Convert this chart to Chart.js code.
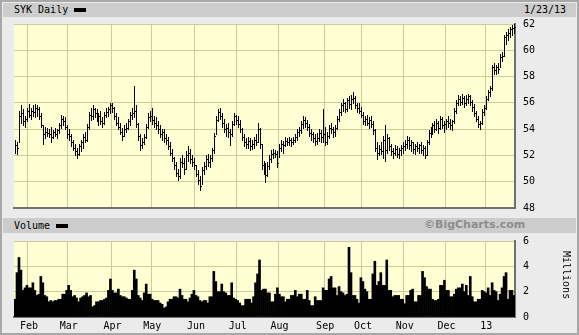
<!DOCTYPE html>
<html>
<head>
<meta charset="utf-8">
<script src="https://cdn.jsdelivr.net/npm/chart.js@4.4.1/dist/chart.umd.min.js"></script>
<style>
  body { margin: 0; background: #ebebeb; }
  #frame {
    position: relative; width: 579px; height: 335px; overflow: hidden;
    background: #ebebeb; box-shadow: inset 0 0 0 2px #a8a8a8;
    font-family: "DejaVu Sans Mono", monospace; font-size: 10px; color: #000;
  }
  .band { position: absolute; left: 3px; width: 573px; background: #cccccc; }
  .txt { position: absolute; white-space: nowrap; line-height: 12px; }
  .swatch { position: absolute; width: 12px; height: 4px; background: #000; }
  canvas { position: absolute; left: 0; }
</style>
</head>
<body>
<div id="frame">
  <canvas id="priceChart" width="579" height="212" style="top:10px"></canvas>
  <canvas id="volChart" width="579" height="108" style="top:227px"></canvas>

  <div class="band" style="top:3px;height:14px"></div>
  <div class="txt" style="left:14px;top:4px">SYK Daily</div>
  <div class="swatch" style="left:74px;top:8px"></div>
  <div class="txt" style="left:524px;top:4px">1/23/13</div>

  <div class="band" style="top:218px;height:15px"></div>
  <div class="txt" style="left:14px;top:220px">Volume</div>
  <div class="swatch" style="left:56px;top:224px"></div>
  <div class="txt" style="left:424px;top:219px;font-family:'DejaVu Sans',sans-serif;font-weight:bold;font-size:11px;color:#8c8c8c">©BigCharts.com</div>
  <div class="txt" style="left:542px;top:269px;width:48px;text-align:center;transform:rotate(90deg)">Millions</div>
</div>

<script>
// ---------------------------------------------------------------------------
// Data: SYK daily, 1/23/12 - 1/23/13 (252 sessions)
// ---------------------------------------------------------------------------
const monthNames = ["Feb", "Mar", "Apr", "May", "Jun", "Jul", "Aug", "Sep", "Oct", "Nov", "Dec", "13"];
const monthStarts = [7, 27, 49, 69, 91, 112, 133, 156, 175, 196, 217, 237];

const highs = [
  53.2,53.0,55.4,55.8,55.5,55.0,55.6,55.9,55.6,55.8, 55.9,55.8,55.7,55.2,54.3,54.2,54.1,54.0,54.2,53.9,
  54.1,54.0,54.5,55.1,55.0,54.9,54.3,54.0,53.6,53.2, 52.9,52.6,52.9,53.2,53.6,53.8,54.4,55.3,55.6,55.8,
  55.6,55.5,55.2,55.4,54.9,55.3,55.6,55.7,56.0,56.0, 55.7,55.2,54.9,54.5,54.1,54.3,54.5,54.8,55.3,55.6,
  57.3,55.8,54.5,53.6,53.3,53.6,54.4,55.2,55.4,55.6, 55.0,54.9,54.6,54.3,54.0,54.0,53.6,53.4,53.0,52.5,
  51.9,51.5,51.0,51.8,52.0,51.8,52.3,52.7,52.5,52.0, 51.8,51.3,50.9,50.4,51.1,51.5,52.0,52.1,52.0,52.6,
  53.7,55.0,55.5,55.6,55.2,54.8,54.4,54.5,54.0,54.6, 55.2,55.1,55.0,54.7,54.1,53.6,53.3,53.4,53.3,53.2,
  53.4,53.6,54.5,54.1,52.9,51.6,51.4,51.5,52.0,52.4, 52.5,52.4,52.3,52.9,53.2,53.1,53.4,53.3,53.4,53.3,
  53.4,53.6,54.0,54.2,54.6,55.0,54.9,54.7,54.4,54.0, 53.8,53.6,53.7,54.0,53.9,55.5,54.2,53.8,54.3,54.5,
  54.2,54.3,55.0,55.5,56.0,56.3,56.1,56.4,56.5,56.6, 56.8,56.5,56.0,56.0,55.7,55.3,55.0,55.1,54.9,55.0,
  54.6,54.0,53.0,52.8,53.0,53.5,54.3,53.6,53.4,52.9, 52.6,52.8,52.7,52.6,52.8,53.0,53.2,53.5,53.4,53.2,
  53.0,52.9,53.0,52.9,53.0,52.8,52.7,53.2,53.9,54.2, 54.5,54.6,54.8,54.6,55.0,54.9,54.6,54.8,55.0,54.8,
  54.7,55.6,56.2,56.6,56.5,56.7,56.5,56.6,56.7,56.6, 56.2,55.9,55.4,55.0,54.6,55.5,55.8,56.5,57.0,57.3,
  58.9,59.0,58.9,59.0,59.7,59.9,61.2,61.4,61.6,61.8, 61.9,62.0
];

const lows = [
  52.2,52.1,53.0,54.5,54.3,54.2,54.6,54.9,54.8,55.0, 54.9,55.0,54.8,54.2,52.9,53.3,53.5,53.4,53.0,53.3,
  53.5,53.3,53.7,54.1,54.3,54.0,53.3,53.2,52.7,52.4, 52.0,51.8,52.0,52.3,52.6,53.0,53.1,54.0,54.7,54.8,
  54.9,54.6,54.3,54.4,54.2,54.4,54.9,55.0,55.2,55.3, 54.8,54.3,54.0,53.6,53.2,53.5,53.8,54.0,54.3,54.8,
  54.9,54.2,53.2,52.4,52.6,52.9,53.3,54.1,54.6,54.4, 54.2,54.0,53.7,53.4,53.2,53.0,52.9,52.5,52.0,51.6,
  51.0,50.4,50.1,50.3,51.1,50.6,51.0,51.6,51.4,51.2, 51.0,50.4,49.8,49.4,49.8,50.6,51.0,51.2,51.1,51.6,
  52.2,53.6,54.6,54.8,54.2,53.8,53.5,53.4,52.8,53.5, 54.3,54.4,54.2,53.8,53.2,52.7,52.6,52.6,52.4,52.5,
  52.6,52.8,53.0,52.6,51.0,50.6,50.0,50.4,51.0,51.5, 51.8,51.9,51.1,51.9,52.3,52.2,52.7,52.8,52.8,52.7,
  52.9,53.0,53.2,53.5,53.7,54.1,54.2,53.9,53.5,53.2, 53.0,52.8,52.9,53.1,53.0,53.0,52.8,52.9,53.3,53.7,
  53.4,53.5,54.0,54.6,55.1,55.4,55.3,55.4,55.6,55.5, 56.0,55.6,55.3,55.2,54.9,54.4,54.3,54.3,54.1,54.2,
  53.6,52.3,51.7,52.0,52.1,51.8,51.6,52.2,52.4,52.0, 51.8,52.0,51.9,51.8,52.0,52.2,52.4,52.6,52.5,52.3,
  52.2,52.1,52.3,52.2,52.2,52.0,51.8,52.0,52.9,53.4, 53.6,53.8,53.9,53.7,54.0,54.1,53.8,54.0,54.2,54.0,
  53.9,54.5,55.2,55.8,55.8,55.9,55.7,55.8,56.0,55.8, 55.4,55.0,54.6,54.2,54.0,54.4,55.1,55.5,56.2,56.5,
  57.0,58.2,58.2,58.3,58.7,59.2,59.6,60.5,60.8,61.0, 61.2,61.3
];

const closes = [
  52.8,52.6,55.0,55.2,54.6,54.8,55.4,55.1,55.4,55.3, 55.6,55.5,55.0,54.3,53.6,53.8,53.7,53.6,53.4,53.8,
  53.6,53.9,54.3,54.8,54.6,54.2,53.6,53.5,53.0,52.6, 52.3,52.1,52.7,53.0,53.4,53.2,54.2,55.1,55.0,55.5,
  55.2,54.8,55.0,54.6,54.5,55.1,55.3,55.5,55.8,55.6, 55.0,54.5,54.2,53.8,53.5,54.0,54.1,54.6,55.1,55.2,
  55.4,54.4,53.5,52.8,53.0,53.4,54.2,54.9,55.0,54.7, 54.5,54.3,54.0,53.6,53.8,53.3,53.2,52.7,52.2,51.8,
  51.3,50.7,50.4,51.5,51.4,51.0,52.0,52.2,51.7,51.5, 51.3,50.6,50.1,49.7,50.9,51.2,51.7,51.5,51.8,52.4,
  53.5,54.7,55.3,55.0,54.5,54.0,54.1,53.8,53.6,54.4, 55.0,54.7,54.4,54.0,53.4,53.0,52.9,53.1,52.7,52.9,
  53.2,53.0,54.0,52.9,51.3,50.9,50.5,51.2,51.7,52.1, 52.2,52.1,51.4,52.6,52.9,52.8,53.1,53.0,53.2,53.0,
  53.2,53.4,53.8,53.9,54.4,54.7,54.5,54.2,53.7,53.6, 53.3,53.1,53.3,53.7,53.4,53.6,53.0,53.5,54.1,54.0,
  53.8,54.1,54.8,55.3,55.8,56.0,55.5,56.2,55.9,56.3, 56.4,55.8,55.6,55.4,55.1,54.6,54.8,54.5,54.7,54.4,
  53.9,52.6,52.2,52.5,52.3,53.2,52.4,53.3,52.7,52.3, 52.2,52.5,52.1,52.4,52.6,52.7,52.9,53.2,52.8,53.0,
  52.5,52.7,52.6,52.8,52.4,52.6,52.0,53.0,53.7,53.8, 54.3,54.0,54.5,54.1,54.8,54.3,54.4,54.6,54.5,54.3,
  54.6,55.4,56.0,56.3,56.1,56.4,56.0,56.3,56.5,56.1, 55.7,55.2,54.8,54.4,54.5,55.3,55.6,56.3,56.8,57.1,
  58.7,58.5,58.7,58.6,59.5,59.6,61.0,61.2,61.3,61.6, 61.7,61.8
];

// volume, millions of shares
const volumes = [
  1.4,3.5,4.7,3.7,2.1,2.3,2.5,2.3,2.3,2.7, 2.1,1.7,1.8,3.2,2.7,1.7,1.6,1.2,1.3,1.2,
  1.3,1.3,1.4,1.4,1.8,1.8,2.1,2.5,2.1,1.6, 1.7,1.5,1.2,1.5,1.6,1.7,1.9,1.6,1.7,0.8,
  0.9,1.2,1.2,1.3,1.3,1.4,1.5,2.1,3.0,2.1, 1.9,1.9,2.2,1.7,1.6,1.6,1.5,1.4,1.4,2.1,
  3.7,3.0,1.7,1.5,1.3,1.9,2.6,1.8,1.8,1.4, 1.3,1.3,1.3,1.1,1.0,0.7,0.8,1.2,1.4,1.4,
  1.6,1.6,1.5,2.2,1.7,1.4,1.4,1.2,1.5,1.8, 2.1,1.7,1.6,1.3,1.2,1.3,1.3,1.1,1.6,1.6,
  3.6,2.8,2.0,2.0,2.6,2.0,1.9,1.7,1.7,2.7, 1.5,1.4,1.3,1.1,0.9,0.9,1.4,1.4,1.4,1.1,
  1.6,2.7,3.4,4.5,2.1,2.2,2.2,1.9,1.9,1.2, 1.2,1.8,2.3,1.8,1.6,1.6,1.2,1.4,1.4,1.7,
  1.7,2.1,1.6,1.8,1.8,1.4,1.4,2.1,1.3,0.9, 0.9,1.6,1.3,1.3,1.3,2.3,2.1,2.1,3.0,3.2,
  2.3,2.3,1.7,2.4,2.0,1.9,1.7,1.8,5.5,3.5, 1.7,1.7,1.4,1.1,3.1,2.8,2.2,2.0,1.4,1.4,
  3.4,4.4,2.5,2.8,3.5,2.5,2.5,4.5,2.1,2.1, 1.6,1.7,1.7,1.7,1.4,1.4,1.05,1.7,1.7,2.1,
  2.2,1.2,1.2,1.7,1.7,3.6,3.1,2.4,2.2,2.2, 1.4,1.3,1.3,1.4,2.5,2.5,2.9,2.1,2.1,1.6,
  1.6,1.8,2.2,2.3,2.3,2.6,2.0,2.5,1.7,3.2, 1.6,1.2,1.2,1.4,1.4,2.1,2.0,1.9,2.3,1.7,
  2.7,2.1,2.0,1.3,1.8,2.3,3.2,3.5,1.4,2.1, 2.1,1.7
];

// one category per session, month name on the first session of each month
const sessionLabels = closes.map((_, i) => {
  const m = monthStarts.indexOf(i);
  return m >= 0 ? monthNames[m] : "";
});

// ---------------------------------------------------------------------------
// Shared styling
// ---------------------------------------------------------------------------
const GRID = "#cccc99";
const EDGE = "#707070";
const FONT = { family: "'DejaVu Sans Mono', monospace", size: 10 };

Chart.defaults.color = "#000";
Chart.defaults.font.family = FONT.family;
Chart.defaults.font.size = FONT.size;
Chart.defaults.animation = false;

const plotBackground = {
  id: "plotBackground",
  beforeDraw(chart) {
    const a = chart.chartArea;
    chart.ctx.save();
    chart.ctx.fillStyle = "#ffffd3";
    chart.ctx.fillRect(a.left, a.top, a.right - a.left, a.bottom - a.top);
    chart.ctx.restore();
  },
};

// crisp 1px high-low bars (from the bar elements the library laid out)
// with a close tick on the right
const hlcBars = {
  id: "hlcBars",
  afterDatasetsDraw(chart) {
    const y = chart.scales.y;
    const ctx = chart.ctx;
    const bars = chart.getDatasetMeta(0).data;
    ctx.save();
    ctx.fillStyle = "#000";
    bars.forEach((bar, i) => {
      const px = Math.round(bar.x);
      const top = Math.round(Math.min(bar.y, bar.base));
      const bottom = Math.round(Math.max(bar.y, bar.base));
      ctx.fillRect(px, top, 1, Math.max(1, bottom - top + 1));
      ctx.fillRect(px + 1, Math.round(y.getPixelForValue(closes[i])), 1, 1);
    });
    ctx.restore();
  },
};

function monthGrid(ctx) {
  return sessionLabels[ctx.index] ? GRID : "rgba(0,0,0,0)";
}

function xAxis(showLabels) {
  return {
    type: "category",
    offset: true,
    grid: { offset: true, color: monthGrid, drawTicks: false },
    border: { color: EDGE, width: 2 },
    ticks: {
      display: showLabels,
      autoSkip: false,
      maxRotation: 0,
      minRotation: 0,
      padding: 3,
      font: FONT,
      callback: (v, i) => sessionLabels[i],
    },
    afterFit: (s) => { s.height = showLabels ? 18 : 0; },
  };
}

function yAxis(min, max) {
  return {
    position: "right",
    min,
    max,
    grid: { color: GRID, drawTicks: false },
    border: { color: EDGE, width: 2 },
    ticks: { stepSize: 2, padding: 8, font: FONT },
    afterFit: (s) => { s.width = 64; },
  };
}

// ---------------------------------------------------------------------------
// Price (high-low-close bars)
// ---------------------------------------------------------------------------
new Chart(document.getElementById("priceChart"), {
  type: "bar",
  data: {
    labels: sessionLabels,
    datasets: [{
      data: highs.map((h, i) => [lows[i], h]),
      backgroundColor: "rgba(0,0,0,0)",
      barThickness: 1,
    }],
  },
  options: {
    responsive: false,
    devicePixelRatio: 1,
    layout: { padding: { left: 14, top: 5, right: 0, bottom: 0 } },
    plugins: { legend: { display: false }, tooltip: { enabled: false } },
    scales: { x: xAxis(false), y: yAxis(48, 62) },
  },
  plugins: [plotBackground, hlcBars],
});

// ---------------------------------------------------------------------------
// Volume
// ---------------------------------------------------------------------------
new Chart(document.getElementById("volChart"), {
  type: "bar",
  data: {
    labels: sessionLabels,
    datasets: [{
      data: volumes,
      backgroundColor: "#000",
      barPercentage: 1,
      categoryPercentage: 1,
    }],
  },
  options: {
    responsive: false,
    devicePixelRatio: 1,
    layout: { padding: { left: 14, top: 2, right: 0, bottom: 0 } },
    plugins: { legend: { display: false }, tooltip: { enabled: false } },
    scales: { x: xAxis(true), y: yAxis(0, 6) },
  },
  plugins: [plotBackground],
});
</script>
</body>
</html>
